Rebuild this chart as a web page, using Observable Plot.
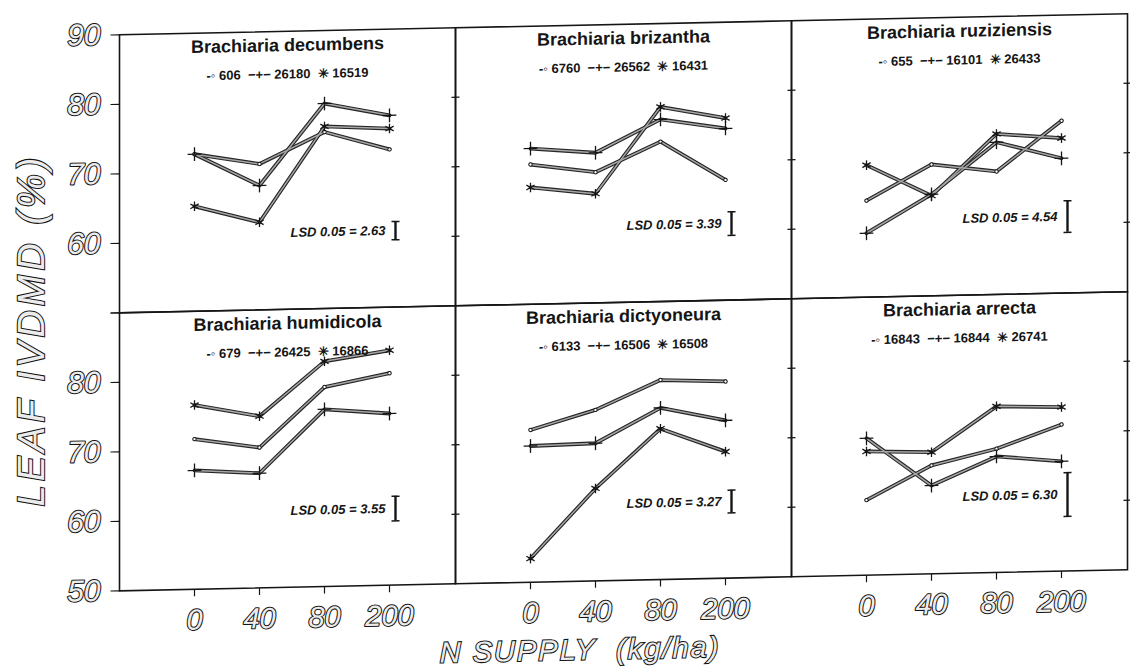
<!DOCTYPE html>
<html>
<head>
<meta charset="utf-8">
<script src="https://cdn.jsdelivr.net/npm/d3@7"></script>
<script src="https://cdn.jsdelivr.net/npm/@observablehq/plot@0.6"></script>
<style>
  html, body { margin: 0; padding: 0; background: #fff; }
  #chart { width: 1130px; height: 671px; overflow: hidden; }
  /* the printed figure sits slightly askew on the page */
  #chart svg { transform: skewY(-1.2deg); transform-origin: 565px 335px; }
</style>
</head>
<body>
<div id="chart"></div>
<script>
// N supply levels (kg/ha), equally spaced on the axis
const nSupply = ["0", "40", "80", "200"];

const species = [
  "Brachiaria decumbens", "Brachiaria brizantha", "Brachiaria ruziziensis",
  "Brachiaria humidicola", "Brachiaria dictyoneura", "Brachiaria arrecta"
];

// CIAT accessions per species, in legend order
const accessions = [
  ["606", "26180", "16519"],
  ["6760", "26562", "16431"],
  ["655", "16101", "26433"],
  ["679", "26425", "16866"],
  ["6133", "16506", "16508"],
  ["16843", "16844", "26741"]
];

// Leaf IVDMD (%) at 0, 40, 80, 200 kg N/ha, one row per accession
const decumbens   = [[72.6, 71.0, 75.4, 72.7], [72.6, 67.9, 79.5, 77.6], [65.1, 62.6, 76.2, 75.7]];
const brizantha   = [[70.1, 68.8, 73.0, 67.3], [72.4, 71.6, 76.2, 74.7], [66.8, 65.7, 78.0, 76.2]];
const ruziziensis = [[63.9, 68.9, 67.7, 74.8], [59.2, 64.6, 71.9, 69.4], [69.0, 64.4, 73.1, 72.3]];
const humidicola  = [[71.6, 70.2, 78.7, 80.5], [67.1, 66.5, 75.5, 74.7], [76.5, 74.7, 82.4, 83.8]];
const dictyoneura = [[71.9, 74.6, 78.7, 78.3], [69.6, 69.8, 74.7, 72.7], [53.4, 63.3, 71.7, 68.2]];
const arrecta     = [[60.8, 65.6, 67.8, 71.1], [69.7, 62.7, 66.7, 65.8], [67.8, 67.5, 73.9, 73.6]];

// least significant difference (P = 0.05) per species
const lsd = [2.63, 3.39, 4.54, 3.55, 3.27, 6.30];

// y-axis tick labels of the upper and lower row of panels
const yLabelsTop = [90, 80, 70, 60];
const yLabelsBottom = [80, 70, 60, 50];
const yTickValues = [60, 70, 80];
const yOuterTickValues = [50, 60, 70, 80, 90];

const seriesValues = [decumbens, brizantha, ruziziensis, humidicola, dictyoneura, arrecta];
const rowOf = (i) => (i < 3 ? "top" : "bottom");
const colOf = (i) => i % 3;

// long table: one record per point
const points = [];
seriesValues.forEach((panel, i) => {
  panel.forEach((vals, k) => {
    vals.forEach((v, j) => {
      points.push({col: colOf(i), row: rowOf(i), key: `${i}-${k}`, k, n: nSupply[j], v});
    });
  });
});

const panels = species.map((name, i) => ({
  col: colOf(i), row: rowOf(i), name,
  legend: `-\u25E6 ${accessions[i][0]}  \u2212+\u2212 ${accessions[i][1]}  \u2733 ${accessions[i][2]}`,
  lsd: lsd[i], mid: 61
}));

const yLabels = [
  ...yLabelsTop.map((v) => ({row: "top", v})),
  ...yLabelsBottom.map((v) => ({row: "bottom", v}))
];
const yTicks = ["top", "bottom"].flatMap((row) => [0, 1, 2].flatMap((col) => yTickValues.map((v) => ({row, col, v}))));
const yOuterTicks = ["top", "bottom"].flatMap((row) => yOuterTickValues.map((v) => ({row, v})));
const xLabels = [0, 1, 2].flatMap((col) => nSupply.map((n) => ({col, n})));

// short horizontal / vertical strokes used as tick and error-bar caps
const hbar = {draw(ctx, size) { const r = Math.sqrt(size / Math.PI); ctx.moveTo(-r, 0); ctx.lineTo(r, 0); }};
const vbar = {draw(ctx, size) { const r = Math.sqrt(size / Math.PI); ctx.moveTo(0, -r); ctx.lineTo(0, r); }};

const ink = "#151515";
const hollow = {fill: "#ececec", stroke: ink, strokeWidth: 2.1, paintOrder: "stroke", fontStyle: "italic"};

const plot = Plot.plot({
  width: 1130,
  height: 671,
  marginTop: 25,
  marginBottom: 90,
  marginLeft: 118,
  marginRight: 3,
  fx: {domain: [0, 1, 2], padding: 0, axis: null},
  fy: {domain: ["top", "bottom"], padding: 0, axis: null},
  x: {type: "point", domain: nSupply, padding: 1, insetLeft: 8, axis: null},
  y: {domain: [50, 90], axis: null},
  style: {fontFamily: "'Liberation Sans', Arial, Helvetica, sans-serif", background: "#fff", color: ink},
  marks: [
    Plot.frame({stroke: ink, strokeWidth: 1.6}),

    // axis ticks: outside on the far left, across every other panel border
    Plot.dot(yOuterTicks, {fx: () => 0, fy: "row", y: "v", frameAnchor: "left", dx: -4.5, symbol: hbar, r: 4.5, fill: "none", stroke: ink, strokeWidth: 1.2}),
    Plot.dot(yTicks, {fx: "col", fy: "row", y: "v", frameAnchor: "right", symbol: hbar, r: 4, fill: "none", stroke: ink, strokeWidth: 1.2}),
    Plot.dot(xLabels, {fx: "col", fy: () => "bottom", x: "n", frameAnchor: "bottom", dy: 3.5, symbol: vbar, r: 3.5, fill: "none", stroke: ink, strokeWidth: 1.2}),

    // accession response lines, drawn as a dark outline with a grey core
    Plot.line(points, {fx: "col", fy: "row", x: "n", y: "v", z: "key", stroke: "#262626", strokeWidth: 3.8}),
    Plot.line(points, {fx: "col", fy: "row", x: "n", y: "v", z: "key", stroke: "#a6a6a6", strokeWidth: 1.5}),
    Plot.dot(points.filter((d) => d.k === 0), {fx: "col", fy: "row", x: "n", y: "v", r: 1.7, fill: "#fff", stroke: ink, strokeWidth: 1}),
    Plot.dot(points.filter((d) => d.k === 1), {fx: "col", fy: "row", x: "n", y: "v", symbol: "plus", r: 4.5, stroke: ink, strokeWidth: 1.3}),
    Plot.dot(points.filter((d) => d.k === 2), {fx: "col", fy: "row", x: "n", y: "v", symbol: "asterisk", r: 4.5, stroke: ink, strokeWidth: 1.3}),

    // LSD bars centred at 61 %
    Plot.ruleX(panels, {fx: "col", fy: "row", x: () => "200", y1: (d) => d.mid - d.lsd / 2, y2: (d) => d.mid + d.lsd / 2, dx: 6, stroke: ink, strokeWidth: 2.4}),
    Plot.dot(panels, {fx: "col", fy: "row", x: () => "200", y: (d) => d.mid - d.lsd / 2, dx: 6, symbol: hbar, r: 4, fill: "none", stroke: ink, strokeWidth: 1.5}),
    Plot.dot(panels, {fx: "col", fy: "row", x: () => "200", y: (d) => d.mid + d.lsd / 2, dx: 6, symbol: hbar, r: 4, fill: "none", stroke: ink, strokeWidth: 1.5}),
    Plot.text(panels, {fx: "col", fy: "row", x: () => "200", y: "mid", text: (d) => `LSD 0.05 = ${d.lsd.toFixed(2)}`, textAnchor: "end", dx: -4, fontSize: 13, fontWeight: "bold", fontStyle: "italic", fill: ink}),

    // panel titles and accession keys
    Plot.text(panels, {fx: "col", fy: "row", text: "name", frameAnchor: "top", lineAnchor: "middle", dy: 14, fontSize: 18, fontWeight: "bold", fill: ink, letterSpacing: "1.2px"}),
    Plot.text(panels, {fx: "col", fy: "row", text: "legend", frameAnchor: "top", lineAnchor: "middle", dy: 43, fontSize: 13, fontWeight: "bold", fill: ink}),

    // outlined tick labels
    Plot.text(yLabels, {fx: () => 0, fy: "row", y: "v", text: (d) => String(d.v), frameAnchor: "left", dx: -19, textAnchor: "end", lineAnchor: "middle", fontSize: 30, ...hollow}),
    Plot.text(xLabels, {fx: "col", fy: () => "bottom", x: "n", text: "n", frameAnchor: "bottom", dy: 31, lineAnchor: "middle", fontSize: 29, ...hollow})
  ]
});

const svg = d3.select(plot);
svg.append("text")
  .attr("transform", "translate(31,319) rotate(-90)")
  .attr("text-anchor", "middle")
  .attr("dominant-baseline", "central")
  .attr("font-size", 38)
  .attr("letter-spacing", "4px")
  .attr("font-style", "italic")
  .attr("fill", "#ececec").attr("stroke", ink).attr("stroke-width", 2.1).attr("paint-order", "stroke")
  .text("LEAF IVDMD (%)");
svg.append("text")
  .attr("x", 580).attr("y", 650)
  .attr("text-anchor", "middle")
  .attr("dominant-baseline", "central")
  .attr("font-size", 29)
  .attr("letter-spacing", "2px")
  .attr("font-style", "italic")
  .attr("fill", "#ececec").attr("stroke", ink).attr("stroke-width", 2.1).attr("paint-order", "stroke")
  .text("N SUPPLY  (kg/ha)");

document.getElementById("chart").append(plot);
</script>
</body>
</html>
